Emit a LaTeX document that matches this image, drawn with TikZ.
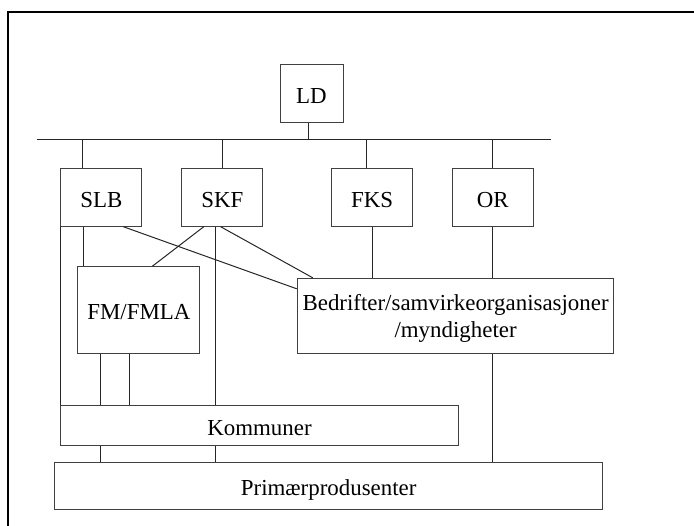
\documentclass[tikz,border=0pt]{standalone}
\usepackage{fontspec}
\setmainfont{Liberation Serif}
\begin{document}
\begin{tikzpicture}[x=1pt, y=-1pt,
    box/.style={draw=black!75, line width=1pt, inner sep=0pt, align=center,
        font=\fontsize{22.9}{27}\selectfont},
    unit/.style={box, text height=20pt, text depth=0pt},
    link/.style={draw=black!85, line width=1pt}]
    \useasboundingbox (0,0) rectangle (694,526);

    % Frame
    \draw[line width=1.7pt] (8,526) -- (8,12) -- (694,12);

    % Top level
    \node[unit, minimum width=63pt, minimum height=58pt] (LD) at (311.5,94) {LD};

    % Second level
    \node[unit, minimum width=81pt, minimum height=58pt] (SLB) at (101.3,197.2) {SLB};
    \node[unit, minimum width=81pt, minimum height=58pt] (SKF) at (222.3,197.2) {SKF};
    \node[unit, minimum width=81pt, minimum height=58pt] (FKS) at (372.2,197.2) {FKS};
    \node[unit, minimum width=81pt, minimum height=58pt] (OR) at (492.8,197.2) {OR};

    % Middle level
    \node[unit, minimum width=122pt, minimum height=86.6pt] (FM) at (138.9,310) {FM/FMLA};
    \node[box, minimum width=316.7pt, minimum height=75pt] (Bed) at (455.6,315.8)
        {\rule{0pt}{21.6pt}Bedrifter/samvirkeorganisasjoner\\/myndigheter};

    % Bottom levels
    \node[unit, minimum width=398.5pt, minimum height=40.4pt] (Kom) at (259.5,425.5) {Kommuner};
    \node[unit, minimum width=548pt, minimum height=47pt] (Prim) at (328.7,485.8) {Primærprodusenter};

    % Bus
    \coordinate (busL) at (37,140);
    \coordinate (busR) at (551,140);
    \draw[link] (busL) -- (busR);

    % Stems to the bus
    \coordinate (ldS) at ([xshift=-3.5pt]LD.south);
    \coordinate (slbN) at ([xshift=22.3pt]SLB.north west);
    \coordinate (fksN) at ([xshift=-6pt]FKS.north);
    \draw[link] (ldS) -- (ldS |- busL);
    \draw[link] (slbN) -- (slbN |- busL);
    \draw[link] (SKF.north) -- (SKF.north |- busL);
    \draw[link] (fksN) -- (fksN |- busL);
    \draw[link] (OR.north) -- (OR.north |- busL);

    % Links from SLB
    \coordinate (slbS) at ([xshift=23pt]SLB.south west);
    \draw[link] (slbS) -- (slbS |- FM.north);
    \draw[link] (SLB.south west) -- (SLB.south west |- Kom.north);
    \draw[link] ([xshift=63pt]SLB.south west) -- ([yshift=-11pt]Bed.north west);

    % Links from SKF
    \coordinate (skfV) at ([xshift=34.5pt]SKF.south west);
    \draw[link] ([xshift=22.5pt]SKF.south west) -- ([xshift=75pt]FM.north west);
    \draw[link] (skfV) -- (skfV |- Kom.north);
    \draw[link] ([xshift=39.3pt]SKF.south west) -- ([xshift=16pt]Bed.north west);

    % Links from FKS and OR
    \draw[link] (FKS.south) -- (FKS.south |- Bed.north);
    \draw[link] (OR.south) -- (OR.south |- Bed.north);
    \draw[link] (OR.south |- Bed.south) -- (OR.south |- Prim.north);

    % FM/FMLA to Kommuner, Kommuner to Primaerprodusenter
    \coordinate (fmA) at ([xshift=23pt]FM.south west);
    \coordinate (fmB) at ([xshift=52pt]FM.south west);
    \draw[link] (fmA) -- (fmA |- Kom.north);
    \draw[link] (fmB) -- (fmB |- Kom.north);
    \draw[link] (fmA |- Kom.south) -- (fmA |- Prim.north);
    \draw[link] (skfV |- Kom.south) -- (skfV |- Prim.north);
\end{tikzpicture}
\end{document}
